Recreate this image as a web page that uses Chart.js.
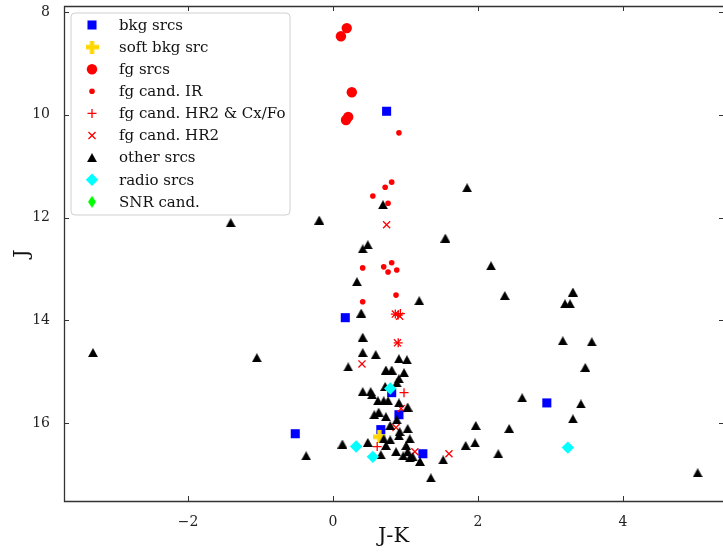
<!DOCTYPE html>
<html>
<head>
<meta charset="utf-8">
<script src="https://cdn.jsdelivr.net/npm/chart.js@4/dist/chart.umd.min.js"></script>
<style>
  html, body { margin: 0; padding: 0; background: #fff; }
  canvas { display: block; }
</style>
</head>
<body>
<canvas id="cmd" width="723" height="556"></canvas>
<script>
// J-K colour vs J magnitude, one pair of arrays per source class
const bkgX = [0.74, 0.17, -0.52, 2.95, 0.66, 0.91, 0.81, 1.24];
const bkgY = [9.93, 13.95, 16.21, 15.61, 16.13, 15.84, 15.41, 16.60];

const softX = [0.64];
const softY = [16.27];

const fgX = [0.19, 0.11, 0.26, 0.21, 0.18];
const fgY = [8.31, 8.47, 9.56, 10.04, 10.10];

const irX = [0.91, 0.81, 0.72, 0.55, 0.76, 0.41, 0.70, 0.81, 0.76, 0.88, 0.87, 0.41];
const irY = [10.35, 11.31, 11.41, 11.58, 11.72, 12.98, 12.96, 12.88, 13.06, 13.02, 13.51, 13.64];

const hrCxX = [0.86, 0.90, 0.93, 0.90, 0.98, 0.61];
const hrCxY = [13.88, 13.90, 13.87, 14.44, 15.41, 16.46];

const hrX = [0.74, 0.86, 0.92, 0.89, 0.40, 0.94, 0.87, 1.13, 1.60];
const hrY = [12.14, 13.88, 13.92, 14.44, 14.85, 15.72, 16.09, 16.56, 16.60];

const otherX = [
  -3.31, -1.41, -0.19, -1.05, -0.37, 1.85, 1.55, 2.18, 2.37, 3.31, 3.20, 3.27, 3.17,
  3.57, 3.48, 2.61, 3.42, 3.31, 1.97, 2.43, 1.96, 1.83, 2.28, 1.52, 5.03, 1.35,
  0.69, 0.48, 0.41, 0.33, 1.19, 0.39, 0.41,
  0.41, 0.59, 0.21, 0.91, 1.02, 0.98, 0.73, 0.81, 0.91, 0.88, 0.72, 0.41, 0.52,
  0.54, 0.62, 0.70, 0.76, 0.91, 1.03, 0.63, 0.57, 0.73, 0.88, 0.79, 1.03, 0.92,
  0.91, 1.06, 0.70, 0.79, 0.13, 0.48, 0.73, 0.87, 1.01, 1.03, 0.97, 1.06, 1.10,
  1.20, 0.66
];
const otherY = [
  14.63, 12.10, 12.05, 14.73, 16.64, 11.42, 12.40, 12.94, 13.52, 13.45, 13.68, 13.68, 14.40,
  14.42, 14.92, 15.51, 15.63, 15.92, 16.05, 16.11, 16.39, 16.44, 16.60, 16.72, 16.97, 17.07,
  11.75, 12.53, 12.61, 13.25, 13.62, 13.86, 14.33,
  14.63, 14.67, 14.91, 14.75, 14.77, 15.02, 14.97, 14.97, 15.14, 15.22, 15.29, 15.39, 15.39,
  15.45, 15.57, 15.57, 15.57, 15.61, 15.69, 15.79, 15.84, 15.88, 15.94, 16.05, 16.11, 16.17,
  16.25, 16.31, 16.31, 16.33, 16.41, 16.38, 16.44, 16.56, 16.44, 16.56, 16.64, 16.68, 16.66,
  16.75, 16.62
];

const radioX = [0.79, 0.32, 0.55, 3.24];
const radioY = [15.33, 16.46, 16.66, 16.48];

const snrX = [];
const snrY = [];

const xTicks = [-2, 0, 2, 4];
const yTicks = [8, 10, 12, 14, 16];

const SERIF = "'DejaVu Serif', serif";

function toPoints(xs, ys) {
  return xs.map((x, i) => ({ x, y: ys[i] }));
}

function markerCanvas(w, h, color, draw) {
  const c = document.createElement("canvas");
  c.width = w;
  c.height = h;
  const g = c.getContext("2d");
  g.fillStyle = color;
  g.beginPath();
  draw(g, w, h);
  g.fill();
  return c;
}

// filled plus like matplotlib "P"
function makePlus(size, color) {
  return markerCanvas(size, size, color, (g, w) => {
    const arm = w / 3;
    g.rect(arm, 0, arm, w);
    g.rect(0, arm, w, arm);
  });
}

// triangle centred on its box, like matplotlib "^"
function makeTriangle(w, h, color) {
  return markerCanvas(w, h, color, (g) => {
    g.moveTo(w / 2, 0);
    g.lineTo(w, h);
    g.lineTo(0, h);
    g.closePath();
  });
}

// thin diamond like matplotlib "d"
function makeThinDiamond(w, h, color) {
  return markerCanvas(w, h, color, (g) => {
    g.moveTo(w / 2, 0);
    g.lineTo(w, h / 2);
    g.lineTo(w / 2, h);
    g.lineTo(0, h / 2);
    g.closePath();
  });
}

const series = [
  { label: "bkg srcs", xs: bkgX, ys: bkgY, style: "rect", radius: 6.4, color: "#0000ff", border: 0 },
  { label: "soft bkg src", xs: softX, ys: softY, style: makePlus(13, "#ffd700"), radius: 6, color: "#ffd700", border: 0 },
  { label: "fg srcs", xs: fgX, ys: fgY, style: "circle", radius: 5.2, color: "#ff0000", border: 0 },
  { label: "fg cand. IR", xs: irX, ys: irY, style: "circle", radius: 2.8, color: "#ff0000", border: 0 },
  { label: "fg cand. HR2 & Cx/Fo", xs: hrCxX, ys: hrCxY, style: "cross", radius: 4.5, color: "#ff0000", border: 1.3 },
  { label: "fg cand. HR2", xs: hrX, ys: hrY, style: "crossRot", radius: 5, color: "#ff0000", border: 1.3 },
  { label: "other srcs", xs: otherX, ys: otherY, style: makeTriangle(10, 9, "#000000"), radius: 6, color: "#000000", border: 0 },
  { label: "radio srcs", xs: radioX, ys: radioY, style: "rectRot", radius: 6.2, color: "#00ffff", border: 0 },
  { label: "SNR cand.", xs: snrX, ys: snrY, style: makeThinDiamond(8, 12, "#00ff00"), radius: 6, color: "#00ff00", border: 0 }
];

const datasets = series.map((s, i) => ({
  label: s.label,
  data: toPoints(s.xs, s.ys),
  pointStyle: s.style,
  pointRadius: s.radius,
  pointHoverRadius: s.radius,
  pointBackgroundColor: s.color,
  pointBorderColor: s.color,
  pointBorderWidth: s.border,
  order: series.length - i
}));

function drawLegend(ctx) {
  const left = 71, top = 13, w = 219, h = 202, r = 4;
  ctx.save();
  ctx.beginPath();
  ctx.moveTo(left + r, top);
  ctx.arcTo(left + w, top, left + w, top + h, r);
  ctx.arcTo(left + w, top + h, left, top + h, r);
  ctx.arcTo(left, top + h, left, top, r);
  ctx.arcTo(left, top, left + w, top, r);
  ctx.closePath();
  ctx.fillStyle = "rgba(255,255,255,0.85)";
  ctx.fill();
  ctx.strokeStyle = "#d0d0d0";
  ctx.lineWidth = 1;
  ctx.stroke();

  ctx.font = "15px " + SERIF;
  ctx.textBaseline = "middle";
  ctx.textAlign = "left";
  series.forEach((s, i) => {
    const yy = 25 + i * 22.1;
    ctx.fillStyle = s.color;
    ctx.strokeStyle = s.color;
    ctx.lineWidth = s.border;
    Chart.helpers.drawPoint(ctx, {
      pointStyle: s.style, rotation: 0, radius: s.radius, borderWidth: s.border
    }, 92, yy);
    ctx.fillStyle = "#111";
    ctx.fillText(s.label, 119, yy + 1);
  });
  ctx.restore();
}

const framePlugin = {
  id: "frame",
  afterDraw(chart) {
    const { ctx, chartArea: a, scales } = chart;
    ctx.save();
    ctx.strokeStyle = "#333";
    ctx.lineWidth = 1.3;
    // left, bottom and top spines; the right one sits just past the canvas edge
    ctx.beginPath();
    ctx.moveTo(a.right + 2, a.top + 0.5);
    ctx.lineTo(a.left + 0.5, a.top + 0.5);
    ctx.lineTo(a.left + 0.5, a.bottom + 0.5);
    ctx.lineTo(a.right + 2, a.bottom + 0.5);
    ctx.stroke();

    // inward tick marks on all four sides
    ctx.lineWidth = 1;
    ctx.beginPath();
    xTicks.forEach((v) => {
      const px = Math.round(scales.x.getPixelForValue(v)) + 0.5;
      ctx.moveTo(px, a.bottom);
      ctx.lineTo(px, a.bottom - 5);
      ctx.moveTo(px, a.top);
      ctx.lineTo(px, a.top + 5);
    });
    yTicks.forEach((v) => {
      const py = Math.round(scales.y.getPixelForValue(v)) + 0.5;
      ctx.moveTo(a.left, py);
      ctx.lineTo(a.left + 5, py);
      ctx.moveTo(a.right + 1, py);
      ctx.lineTo(a.right - 4, py);
    });
    ctx.stroke();

    // axis titles
    ctx.fillStyle = "#111";
    ctx.font = "21px " + SERIF;
    ctx.textAlign = "center";
    ctx.textBaseline = "middle";
    ctx.fillText("J-K", (a.left + a.right) / 2, 537);
    ctx.translate(23, (a.top + a.bottom) / 2);
    ctx.rotate(-Math.PI / 2);
    ctx.fillText("J", 0, 0);
    ctx.restore();

    drawLegend(ctx);
  }
};

new Chart(document.getElementById("cmd"), {
  type: "scatter",
  data: { datasets },
  options: {
    responsive: false,
    animation: false,
    layout: { autoPadding: false, padding: { top: 6, right: 0, left: 0, bottom: 0 } },
    plugins: {
      legend: { display: false },
      tooltip: { enabled: false }
    },
    scales: {
      x: {
        type: "linear",
        min: -3.71,
        max: 5.38,
        grid: { display: false },
        border: { display: false },
        afterBuildTicks(scale) {
          scale.ticks = xTicks.map((v) => ({ value: v }));
        },
        afterFit(scale) {
          scale.height = 55;
          scale.paddingLeft = 0;
          scale.paddingRight = 0;
        },
        ticks: {
          padding: 5,
          color: "#222",
          font: { family: SERIF, size: 14 },
          callback: (v) => String(v).replace("-", "\u2212")
        }
      },
      y: {
        type: "linear",
        reverse: true,
        min: 7.88,
        max: 17.52,
        grid: { display: false },
        border: { display: false },
        afterBuildTicks(scale) {
          scale.ticks = yTicks.map((v) => ({ value: v }));
        },
        afterFit(scale) {
          scale.width = 64;
          scale.paddingTop = 0;
          scale.paddingBottom = 0;
        },
        ticks: {
          padding: 6,
          color: "#222",
          font: { family: SERIF, size: 14 }
        }
      }
    }
  },
  plugins: [framePlugin]
});
</script>
</body>
</html>
